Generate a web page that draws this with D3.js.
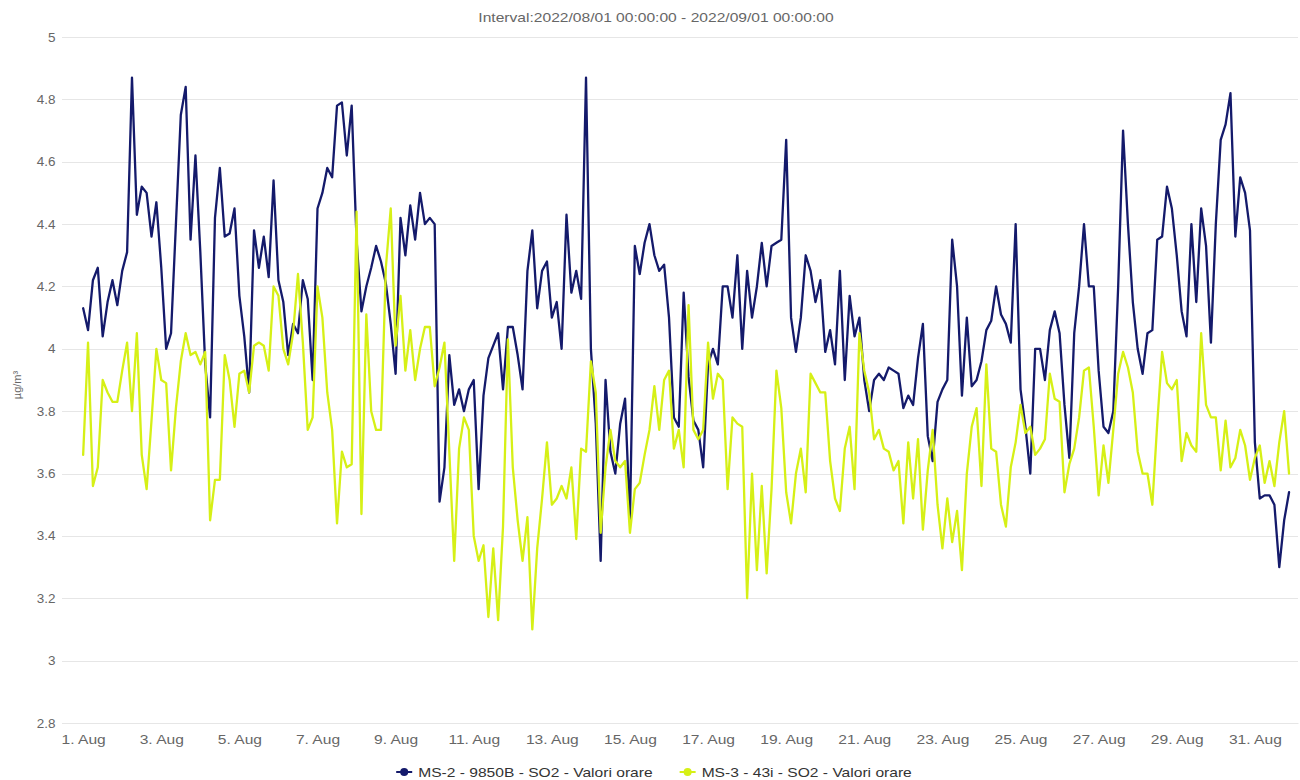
<!DOCTYPE html>
<html>
<head>
<meta charset="utf-8">
<script src="https://cdn.jsdelivr.net/npm/d3@7"></script>
<style>
  body { margin: 0; background: #fff; }
  svg { font-family: "Liberation Sans", Arial, sans-serif; }
</style>
</head>
<body>
<svg id="chart" width="1300" height="780"></svg>
<script>
// hourly SO2 readings, sampled every 3 hours from 2022-08-01 00:00
const startTime = Date.UTC(2022, 7, 1);
const stepHours = 3;

const seriesNames = [
  "MS-2 - 9850B - SO2 - Valori orare",
  "MS-3 - 43i - SO2 - Valori orare"
];
const seriesColors = ["#141a6b", "#d6f016"];

const ms2Values = [
  4.13, 4.06, 4.22, 4.26, 4.04, 4.15, 4.22, 4.14, // 1 Aug
  4.25, 4.31, 4.87, 4.43, 4.52, 4.50, 4.36, 4.47,
  4.26, 4.00, 4.05, 4.40, 4.75, 4.84, 4.35, 4.62,
  4.31, 3.95, 3.78, 4.42, 4.58, 4.36, 4.37, 4.45,
  4.17, 4.04, 3.86, 4.38, 4.26, 4.36, 4.23, 4.54, // 5 Aug
  4.22, 4.15, 3.98, 4.08, 4.05, 4.22, 4.16, 3.90,
  4.45, 4.50, 4.58, 4.55, 4.78, 4.79, 4.62, 4.78,
  4.35, 4.12, 4.20, 4.26, 4.33, 4.28, 4.21, 4.08,
  3.92, 4.42, 4.30, 4.46, 4.35, 4.50, 4.40, 4.42,
  4.40, 3.51, 3.62, 3.98, 3.82, 3.87, 3.80, 3.87, // 10 Aug
  3.90, 3.55, 3.85, 3.97, 4.01, 4.05, 3.87, 4.07,
  4.07, 3.98, 3.87, 4.25, 4.38, 4.13, 4.25, 4.28,
  4.10, 4.15, 4.00, 4.43, 4.18, 4.25, 4.16, 4.87,
  4.00, 3.76, 3.32, 3.90, 3.67, 3.60, 3.76, 3.84,
  3.45, 4.33, 4.24, 4.34, 4.40, 4.30, 4.25, 4.27, // 15 Aug
  4.10, 3.78, 3.75, 4.18, 3.91, 3.77, 3.74, 3.62,
  3.95, 4.00, 3.95, 4.20, 4.20, 4.10, 4.30, 4.00,
  4.25, 4.10, 4.20, 4.34, 4.20, 4.33, 4.34, 4.35,
  4.67, 4.10, 3.99, 4.10, 4.30, 4.25, 4.15, 4.22,
  3.99, 4.06, 3.95, 4.25, 3.90, 4.17, 4.04, 4.10, // 20 Aug
  3.90, 3.80, 3.90, 3.92, 3.90, 3.94, 3.93, 3.92,
  3.81, 3.85, 3.82, 3.97, 4.08, 3.72, 3.64, 3.83,
  3.87, 3.90, 4.35, 4.20, 3.85, 4.10, 3.88, 3.90,
  3.96, 4.06, 4.09, 4.20, 4.11, 4.08, 4.02, 4.40,
  3.87, 3.75, 3.60, 4.00, 4.00, 3.90, 4.06, 4.12, // 25 Aug
  4.05, 3.82, 3.65, 4.05, 4.20, 4.40, 4.20, 4.20,
  3.93, 3.75, 3.73, 3.80, 4.20, 4.70, 4.40, 4.15,
  4.00, 3.92, 4.05, 4.06, 4.35, 4.36, 4.52, 4.45,
  4.30, 4.12, 4.04, 4.40, 4.15, 4.45, 4.33, 4.02,
  4.40, 4.67, 4.72, 4.82, 4.36, 4.55, 4.50, 4.38, // 30 Aug
  3.70, 3.52, 3.53, 3.53, 3.50, 3.30, 3.45, 3.54
];

const ms3Values = [
  3.66, 4.02, 3.56, 3.62, 3.90, 3.86, 3.83, 3.83, // 1 Aug
  3.93, 4.02, 3.80, 4.05, 3.66, 3.55, 3.77, 4.00,
  3.90, 3.89, 3.61, 3.81, 3.96, 4.05, 3.98, 3.99,
  3.95, 3.99, 3.45, 3.58, 3.58, 3.98, 3.90, 3.75,
  3.92, 3.93, 3.86, 4.01, 4.02, 4.01, 3.93, 4.20, // 5 Aug
  4.17, 4.00, 3.95, 4.05, 4.24, 4.02, 3.74, 3.78,
  4.20, 4.10, 3.86, 3.74, 3.44, 3.67, 3.62, 3.63,
  4.44, 3.47, 4.11, 3.80, 3.74, 3.74, 4.26, 4.45,
  4.01, 4.17, 3.93, 4.06, 3.90, 4.00, 4.07, 4.07,
  3.88, 3.94, 4.02, 3.67, 3.32, 3.68, 3.78, 3.74, // 10 Aug
  3.40, 3.32, 3.37, 3.14, 3.36, 3.13, 3.43, 4.03,
  3.62, 3.45, 3.32, 3.46, 3.10, 3.36, 3.52, 3.70,
  3.50, 3.52, 3.56, 3.52, 3.62, 3.39, 3.68, 3.67,
  3.96, 3.86, 3.41, 3.62, 3.74, 3.64, 3.62, 3.64,
  3.41, 3.55, 3.57, 3.66, 3.74, 3.88, 3.74, 3.90, // 15 Aug
  3.93, 3.68, 3.74, 3.62, 4.14, 3.74, 3.71, 3.74,
  4.02, 3.84, 3.92, 3.90, 3.55, 3.78, 3.76, 3.75,
  3.20, 3.60, 3.29, 3.56, 3.28, 3.55, 3.93, 3.81,
  3.54, 3.44, 3.60, 3.68, 3.54, 3.92, 3.89, 3.86,
  3.86, 3.64, 3.52, 3.48, 3.68, 3.75, 3.55, 4.05, // 20 Aug
  3.93, 3.86, 3.71, 3.74, 3.68, 3.67, 3.61, 3.64,
  3.44, 3.70, 3.52, 3.71, 3.42, 3.61, 3.74, 3.50,
  3.36, 3.52, 3.38, 3.48, 3.29, 3.60, 3.75, 3.81,
  3.56, 3.95, 3.68, 3.67, 3.50, 3.43, 3.62, 3.70,
  3.82, 3.73, 3.75, 3.66, 3.68, 3.71, 3.92, 3.84, // 25 Aug
  3.83, 3.54, 3.63, 3.68, 3.78, 3.93, 3.94, 3.75,
  3.53, 3.69, 3.57, 3.74, 3.92, 3.99, 3.94, 3.86,
  3.67, 3.60, 3.60, 3.50, 3.76, 3.99, 3.89, 3.87,
  3.90, 3.64, 3.73, 3.69, 3.67, 4.05, 3.82, 3.78,
  3.78, 3.61, 3.77, 3.62, 3.65, 3.74, 3.69, 3.58, // 30 Aug
  3.65, 3.69, 3.57, 3.64, 3.56, 3.70, 3.80, 3.60
];

const yTicks = [2.8, 3, 3.2, 3.4, 3.6, 3.8, 4, 4.2, 4.4, 4.6, 4.8, 5];
const xTickDays = [1, 3, 5, 7, 9, 11, 13, 15, 17, 19, 21, 23, 25, 27, 29, 31];

const title = "Interval:2022/08/01 00:00:00 - 2022/09/01 00:00:00";
const yLabel = "µg/m³";

const width = 1300;
const plot = { left: 62, right: 1298, top: 37, bottom: 723 };
// the source text is rendered a little wider than the font
const stretch = "scale(1.2,1)";

const svg = d3.select("#chart");

const x = d3.scaleUtc()
  .domain([Date.UTC(2022, 6, 31, 11), Date.UTC(2022, 8, 1, 2, 30)])
  .range([plot.left, plot.right]);

const y = d3.scaleLinear()
  .domain([2.8, 5])
  .range([plot.bottom, plot.top]);

const timeAt = i => new Date(startTime + i * stepHours * 3600 * 1000);

// grid
svg.append("g")
  .selectAll("line")
  .data(yTicks)
  .join("line")
  .attr("x1", plot.left)
  .attr("x2", plot.right)
  .attr("y1", d => Math.round(y(d)) + 0.5)
  .attr("y2", d => Math.round(y(d)) + 0.5)
  .attr("stroke", "#e6e6e6")
  .attr("stroke-width", 1);

// y axis
const yAxis = svg.append("g")
  .attr("transform", `translate(${plot.left},0)`)
  .call(
    d3.axisLeft(y)
      .tickValues(yTicks)
      .tickSize(0)
      .tickPadding(6)
      .tickFormat(d => String(+d.toFixed(1)))
  );
yAxis.select(".domain").remove();
yAxis.selectAll("text")
  .attr("fill", "#666")
  .attr("transform", "scale(1.08,1)")
  .style("font-size", "12.5px");

// x axis
const fmtDay = d3.utcFormat("%-d. %b");
const xAxis = svg.append("g")
  .attr("transform", `translate(0,${plot.bottom})`)
  .call(
    d3.axisBottom(x)
      .tickValues(xTickDays.map(d => new Date(Date.UTC(2022, 7, d))))
      .tickSize(0)
      .tickPadding(12)
      .tickFormat(fmtDay)
  );
xAxis.select(".domain").attr("stroke", "#e6e6e6");
xAxis.selectAll("text")
  .attr("fill", "#666")
  .attr("transform", stretch)
  .style("font-size", "13px");

// series
const line = d3.line()
  .defined(d => d != null)
  .x((d, i) => x(timeAt(i)))
  .y(d => y(d));

svg.append("g")
  .selectAll("path")
  .data([ms2Values, ms3Values])
  .join("path")
  .attr("d", d => line(d))
  .attr("fill", "none")
  .attr("stroke", (d, i) => seriesColors[i])
  .attr("stroke-width", 2.3)
  .attr("stroke-linejoin", "round")
  .attr("stroke-linecap", "round");

// title and y label
svg.append("g")
  .attr("transform", "translate(656,22)")
  .append("text")
  .attr("transform", stretch)
  .attr("text-anchor", "middle")
  .attr("fill", "#666")
  .style("font-size", "13px")
  .text(title);

svg.append("text")
  .attr("transform", "translate(21,385) rotate(-90)")
  .attr("text-anchor", "middle")
  .attr("fill", "#666")
  .style("font-size", "11px")
  .text(yLabel);

// legend
const legend = svg.append("g").attr("transform", "translate(0,772)");
const items = legend.selectAll("g")
  .data(seriesNames)
  .join("g");

items.append("line")
  .attr("x1", 0).attr("x2", 16)
  .attr("stroke", (d, i) => seriesColors[i])
  .attr("stroke-width", 2);
items.append("circle")
  .attr("cx", 8).attr("r", 4)
  .attr("fill", (d, i) => seriesColors[i]);
items.append("g")
  .attr("transform", "translate(22,0)")
  .append("text")
  .attr("transform", stretch)
  .attr("dy", "0.35em")
  .attr("fill", "#333")
  .style("font-size", "13px")
  .text(d => d);

const widths = [];
items.each(function () {
  widths.push(this.getBBox().width);
});
const gap = 27;
const total = d3.sum(widths) + gap * (widths.length - 1);
let offset = (width - total) / 2 + 4;
items.attr("transform", (d, i) => {
  const tx = offset;
  offset += widths[i] + gap;
  return `translate(${tx},0)`;
});
</script>
</body>
</html>
